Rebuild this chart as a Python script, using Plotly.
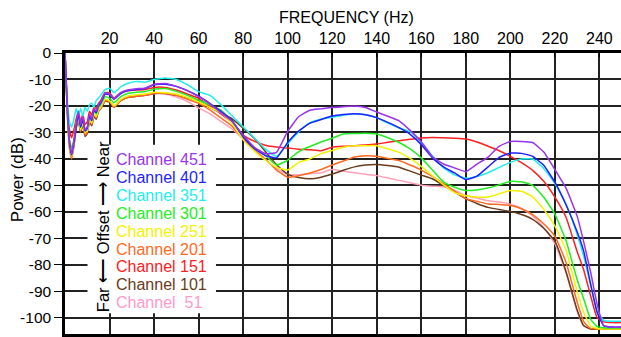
import plotly.graph_objects as go

# Frequency grid (Hz)
freq = [0, 1, 2, 3, 4, 5, 6, 7, 8, 9, 10, 11, 12, 13, 14, 15, 16,
        18, 20, 22, 25, 28, 32, 36, 40,
        45, 50, 55, 60, 65, 70, 75, 80, 85, 90, 95, 100, 105, 110, 115, 120,
        125, 130, 135, 140, 145, 150, 155, 160, 165, 170, 175, 180, 185, 190,
        195, 200, 205, 210, 215, 220, 225, 230,
        233, 236, 239, 242, 246, 250]

# Power spectra (dB) per channel
ch451 = [0, -20, -33, -38, -33, -27, -22, -27, -24, -29, -28, -23, -25, -21, -22, -19.5, -18.5,
         -15, -15.5, -17.3, -15, -14, -13.5, -13.3, -11.8,
         -11.5, -12.6, -14.3, -16.5, -19.2, -22.5, -25.8, -31, -35.6, -38, -37.5, -29.6, -24, -21.6, -21.1, -20.6,
         -20.3, -20, -20.6, -22.3, -23.9, -25.6, -29.2, -33.5, -39.2, -41.9, -43.4, -44.8, -42, -39.3,
         -35.2, -33.4, -33.4, -33.8, -37.4, -44, -51, -61.6,
         -71.5, -82.5, -95, -103, -103.5, -103.5]
ch401 = [0, -20, -34, -38.5, -34, -28, -23, -28, -25, -29.5, -28.5, -23.5, -25.5, -21.5, -22.5, -20, -19,
         -15.5, -15.8, -17.5, -15.3, -14.3, -13.8, -13.4, -12,
         -11.8, -12.6, -14.2, -16.3, -19, -22, -25.5, -31.6, -36, -38.7, -39.6, -33.8, -29.4, -26.5, -25.1, -23.8,
         -23.2, -22.9, -23.3, -24.4, -26.2, -28.2, -30.7, -34.6, -39.6, -43, -45.3, -47.8, -46.5, -43,
         -39.4, -37.8, -37.9, -39, -42.4, -48.8, -57.3, -67.5,
         -75, -87, -98, -103, -103.5, -103.5]
ch351 = [0, -18, -26, -28, -25, -21, -24, -21, -24, -20.5, -22, -19.5, -19, -20.5, -18, -17, -16,
         -13.8, -13.3, -15, -12.8, -11.5, -10.8, -11, -10,
         -9.4, -10, -12, -14.6, -16, -19.5, -23.7, -27.9, -32, -36.3, -39, -34.3, -29.7, -26.3, -25, -24.3,
         -23.5, -23, -23.3, -24.4, -26.5, -28.3, -29.7, -33.8, -38.8, -43.4, -46, -47.3, -46.6, -45.2,
         -43.2, -41.3, -40, -40, -43.6, -49.3, -57, -68.5,
         -77, -87.5, -97.5, -101, -101.3, -101.3]
ch301 = [0, -21, -33, -36, -33, -27, -24, -28, -25, -29, -28, -24, -25.5, -22, -23, -20.5, -19.5,
         -16.5, -17, -18.8, -16.5, -15.3, -14.8, -14.5, -13.7,
         -13.4, -14.5, -16, -17.8, -19.5, -21.6, -25.7, -31.5, -35.8, -38.7, -42.3, -40.5, -37.2, -35.3, -33.6, -32.2,
         -30.6, -30.4, -30.3, -30.6, -32, -33.8, -36.2, -39.6, -44.2, -48.7, -50.7, -51.9, -51.7, -51,
         -49.8, -48.5, -48.6, -50, -54.5, -60.8, -70.8, -85.5,
         -93, -100.5, -103.3, -103.7, -103.8, -103.8]
ch251 = [0, -22, -35, -39, -34, -27, -24, -29, -26, -30, -29.5, -25, -26.5, -23, -24, -21.5, -20.5,
         -17.5, -18, -20, -17.5, -16.3, -15.8, -15.5, -14.8,
         -15, -15.5, -16.8, -18.4, -20.5, -22.5, -26.5, -32.8, -37, -40.5, -43.2, -44.2, -41.3, -40, -38, -36.8,
         -35.6, -35, -35, -35, -36.2, -37.5, -39.8, -42.8, -46.3, -49.8, -52.7, -53.9, -54.4, -54.4,
         -53.2, -51.9, -52.2, -54.3, -59, -65.3, -74.5, -90,
         -98, -103, -104, -104.2, -104.2, -104.2]
ch201 = [0, -22, -36, -40, -35, -28, -25, -29.5, -26.5, -31, -30, -25.5, -27, -23.5, -24.5, -22, -21,
         -18, -18.3, -20.5, -18, -16.8, -16.3, -16, -15.2,
         -15.2, -16, -17.5, -19, -21.5, -24.5, -27.6, -32.5, -36.7, -40.1, -44.2, -46.9, -46.3, -45.3, -44, -42.3,
         -40.8, -39.3, -38.8, -39, -39.8, -40.6, -42.3, -44.2, -46.6, -49.3, -52.2, -55, -56, -57,
         -57.2, -57.6, -58.8, -61, -64.5, -69.2, -79, -94,
         -101.5, -104, -104.2, -104.2, -104.2, -104.2]
ch151 = [0, -19, -29, -32, -29, -25, -22, -26, -23, -27, -26, -22, -23.5, -20.5, -21, -19, -18,
         -15, -15, -17, -15, -14.3, -14, -13.8, -13,
         -13, -14, -15.5, -17.1, -20, -23, -26.3, -31, -33.3, -34.8, -35.5, -35.9, -36.3, -36.5, -36.9, -35.6,
         -35.2, -35, -34.7, -34.4, -33.7, -33.1, -32.6, -32.1, -31.9, -32, -32.2, -32.5, -33.6, -35.2,
         -36.9, -39, -41.4, -44.3, -48.4, -54.4, -62, -75,
         -82, -91.5, -100, -101.5, -101.8, -101.8]
ch101 = [0, -22, -35, -39, -35, -28.5, -25.5, -30, -27, -31.5, -30.5, -26, -27.5, -24, -25, -22, -21,
         -18.2, -18.5, -20.5, -18, -16.8, -16.3, -16, -15.3,
         -15.3, -16, -17, -18.4, -20.6, -22.5, -24.8, -28.4, -32.2, -37.2, -42.2, -45.8, -47, -47.5, -46.9, -45.7,
         -44.3, -43, -42.3, -42.1, -42.5, -43.1, -44.6, -46.1, -47.5, -50, -52.5, -55, -56.8, -58.3,
         -59.1, -59.8, -61, -62.8, -66.2, -71, -82.5, -97,
         -103, -104.2, -104.3, -104.3, -104.3, -104.3]
ch51 = [0, -21, -33, -36, -33, -27.5, -25, -29, -26, -30, -29.5, -25, -26.5, -23.5, -24.5, -22, -21,
        -18, -18.3, -20, -18, -16.8, -16.3, -16, -15.4,
        -15.5, -16.6, -18.3, -20.7, -22.9, -25.8, -28.7, -32.4, -36.2, -40.1, -43.6, -45.8, -46, -45.6, -45.2, -44,
        -44.6, -45.2, -45.8, -46.3, -47.2, -48.1, -49, -49.9, -50.3, -50.5, -51.8, -53.8, -54.8, -55.8,
        -56.3, -57.1, -58.7, -61.5, -66, -72, -83, -97.5,
        -103, -104, -104.3, -104.3, -104.3, -104.3]

channel_names = ["Channel 451", "Channel 401", "Channel 351", "Channel 301", "Channel 251",
                 "Channel 201", "Channel 151", "Channel 101", "Channel\u00a0\u00a051"]
channel_data = [ch451, ch401, ch351, ch301, ch251, ch201, ch151, ch101, ch51]
line_colors = ["#9933ee", "#1f1fff", "#22eeee", "#22ee22", "#f2f200",
               "#ff6a1f", "#ff2020", "#6b3a1a", "#ffa0b8"]
label_colors = ["#9933ee", "#1f1fff", "#22eeee", "#22ee22", "#f2f200",
                "#ff6a1f", "#ff2020", "#6b3a1a", "#ff99cc"]

x_ticks = [20, 40, 60, 80, 100, 120, 140, 160, 180, 200, 220, 240]
x_tick_text = [str(v) for v in x_ticks]
y_ticks = [0, -10, -20, -30, -40, -50, -60, -70, -80, -90, -100]
y_tick_text = [str(v) for v in y_ticks]

FONT = "Arial, Liberation Sans, sans-serif"

fig = go.Figure()
# far channels first so the near ones sit on top
for name, vals, col in reversed(list(zip(channel_names, channel_data, line_colors))):
    fig.add_trace(go.Scatter(x=freq, y=vals, mode="lines", name=name,
                             line=dict(color=col, width=1.5, shape="spline", smoothing=0.4),
                             showlegend=False))

# white panel behind the channel key
fig.add_shape(type="rect", xref="x", yref="y", x0=10.1, x1=67.8, y0=-98.3, y1=-34.6,
              fillcolor="white", line=dict(width=0), layer="above")

# channel key: one row per channel, 18 px apart
key_top, key_step = -40.3, 6.75
annotations = []
for i, (name, col) in enumerate(zip(channel_names, label_colors)):
    annotations.append(dict(x=22.2, y=key_top - i * key_step, xref="x", yref="y", text=name,
                            showarrow=False, xanchor="left", yanchor="middle",
                            font=dict(family=FONT, size=16, color=col)))
annotations.append(dict(x=16.8, y=-65.6, xref="x", yref="y",
                        text="Far \u27f5 Offset \u27f6 Near", textangle=-90, showarrow=False,
                        xanchor="center", yanchor="middle",
                        font=dict(family=FONT, size=16.5, color="black")))
annotations.append(dict(x=0.506, y=1.127, xref="paper", yref="paper", text="FREQUENCY (Hz)",
                        showarrow=False, xanchor="center", yanchor="middle",
                        font=dict(family=FONT, size=16, color="black")))
annotations.append(dict(x=-0.086, y=0.548, xref="paper", yref="paper", text="Power (dB)",
                        textangle=-90, showarrow=False, xanchor="center", yanchor="middle",
                        font=dict(family=FONT, size=17, color="black")))

fig.update_layout(
    width=621, height=337,
    margin=dict(l=65, r=0, t=53, b=1),
    paper_bgcolor="white", plot_bgcolor="white",
    annotations=annotations,
    xaxis=dict(range=[0, 249.7], side="top", tickvals=x_ticks, ticktext=x_tick_text,
               showgrid=True, gridcolor="#222222", gridwidth=1.5,
               showline=True, linecolor="black", linewidth=2.5, mirror=True,
               ticks="inside", ticklen=4, tickcolor="black", zeroline=False,
               tickfont=dict(family=FONT, size=16, color="black")),
    yaxis=dict(range=[-106.1, 0], tickvals=y_ticks, ticktext=y_tick_text,
               showgrid=True, gridcolor="#222222", gridwidth=1.5,
               showline=True, linecolor="black", linewidth=2.5,
               ticks="outside", ticklen=8, tickcolor="black", zeroline=False,
               tickfont=dict(family=FONT, size=15.5, color="black")),
)

fig.write_html("out.html")
